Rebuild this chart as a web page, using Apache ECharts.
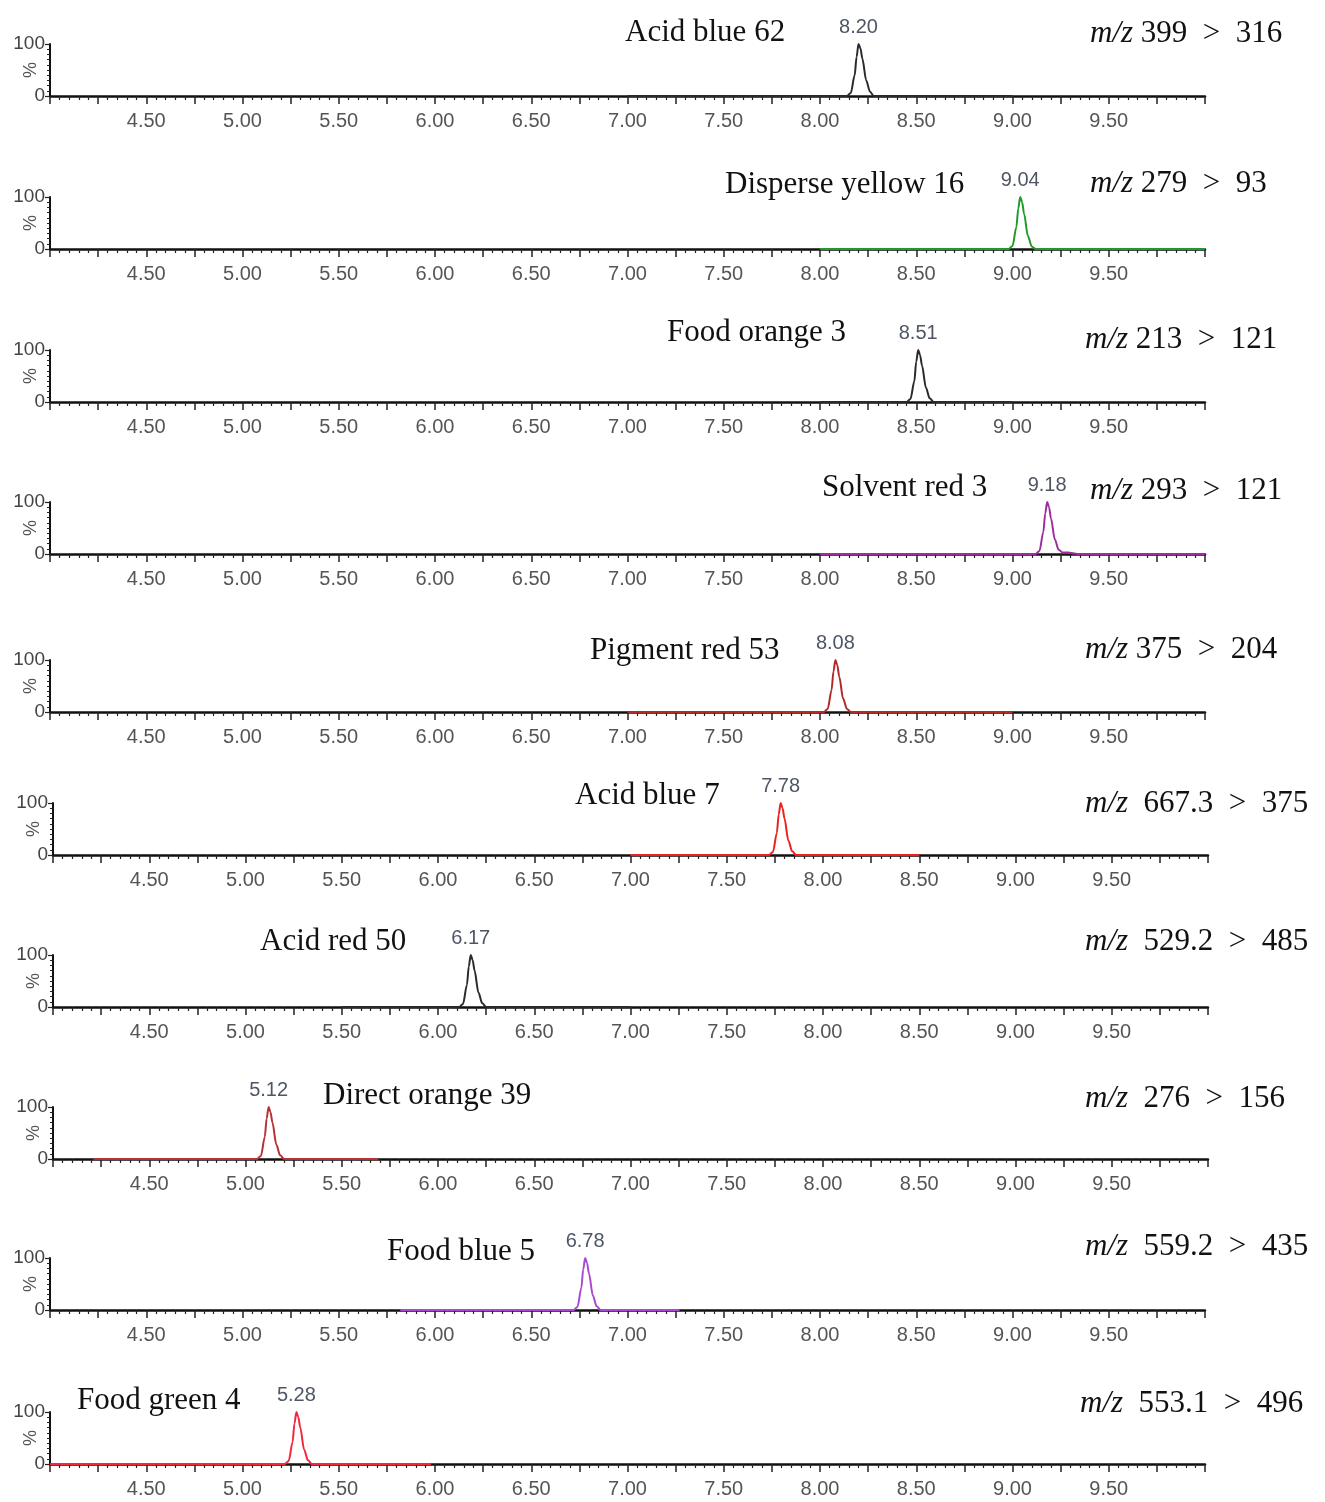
<!DOCTYPE html>
<html>
<head>
<meta charset="utf-8">
<script src="https://cdn.jsdelivr.net/npm/echarts@6/dist/echarts.min.js"></script>
<style>
  html, body { margin: 0; padding: 0; background: #fff; }
  #chart { width: 1325px; height: 1502px; }
</style>
</head>
<body>
<div id="chart"></div>
<script>
// compound names, transitions and retention times
var names = ['Acid blue 62', 'Disperse yellow 16', 'Food orange 3', 'Solvent red 3', 'Pigment red 53',
  'Acid blue 7', 'Acid red 50', 'Direct orange 39', 'Food blue 5', 'Food green 4'];
var transitions = ['399 > 316', '279 > 93', '213 > 121', '293 > 121', '375 > 204',
  ' 667.3 > 375', ' 529.2 > 485', ' 276 > 156', ' 559.2 > 435', ' 553.1 > 496'];
var peakTimes = ['8.20', '9.04', '8.51', '9.18', '8.08', '7.78', '6.17', '5.12', '6.78', '5.28'];
var colors = ['#2a2a2a', '#1f9a2a', '#2a2a2a', '#9c2f9c', '#b02a2a', '#ec2020', '#2a2a2a', '#b53232', '#a84ad0', '#f2283c'];

// traces: [time (min), intensity (%)]
var trace1 = [[7.00,0],[8.14,0],[8.16,6],[8.18,40],[8.19,75],[8.20,100],[8.21,92],[8.22,72],[8.24,30],[8.26,8],[8.28,0],[9.00,0]];
var trace2 = [[8.00,0],[8.98,0],[9.00,6],[9.02,42],[9.03,78],[9.04,100],[9.05,90],[9.06,68],[9.08,25],[9.10,5],[9.12,0],[10.00,0]];
var trace3 = [[8.00,0],[8.45,0],[8.47,6],[8.49,40],[8.50,78],[8.51,100],[8.52,90],[8.53,70],[8.55,28],[8.57,7],[8.59,0],[9.00,0]];
var trace4 = [[8.00,0],[9.12,0],[9.14,6],[9.16,42],[9.17,78],[9.18,100],[9.19,90],[9.20,68],[9.22,28],[9.24,8],[9.26,3],[9.29,3],[9.32,1],[9.34,0],[10.00,0]];
var trace5 = [[7.00,0],[8.02,0],[8.04,6],[8.06,42],[8.07,78],[8.08,100],[8.09,90],[8.10,68],[8.12,26],[8.14,6],[8.16,0],[9.00,0]];
var trace6 = [[7.00,0],[7.72,0],[7.74,6],[7.76,42],[7.77,78],[7.78,100],[7.79,90],[7.80,70],[7.82,28],[7.84,7],[7.86,0],[8.50,0]];
var trace7 = [[5.50,0],[6.11,0],[6.13,6],[6.15,42],[6.16,78],[6.17,100],[6.18,90],[6.19,70],[6.21,28],[6.23,7],[6.25,0],[7.00,0]];
var trace8 = [[4.21,0],[5.06,0],[5.08,6],[5.10,42],[5.11,78],[5.12,100],[5.13,90],[5.14,70],[5.16,28],[5.18,7],[5.20,0],[5.69,0]];
var trace9 = [[5.82,0],[6.72,0],[6.74,6],[6.76,42],[6.77,78],[6.78,100],[6.79,90],[6.80,70],[6.82,28],[6.84,7],[6.86,0],[7.27,0]];
var trace10 = [[4.00,0],[5.22,0],[5.24,6],[5.26,42],[5.27,78],[5.28,100],[5.29,90],[5.30,70],[5.32,28],[5.34,7],[5.36,0],[5.98,0]];
var traces = [trace1, trace2, trace3, trace4, trace5, trace6, trace7, trace8, trace9, trace10];

// layout of the panels (pixels)
var baselines = [96, 249, 402, 554, 712, 855, 1007, 1159, 1310, 1464];
var lefts = [50, 50, 50, 50, 50, 53, 53, 53, 50, 50];
var nameLeft = [625, 725, 667, 822, 590, 575, 260, 323, 387, 77];
var nameY = [31, 183, 331, 486, 649, 794, 940, 1094, 1250, 1399];
var mzLeft = [1090, 1090, 1085, 1090, 1085, 1085, 1085, 1085, 1085, 1080];
var mzY = [32, 182, 338, 489, 648, 802, 940, 1097, 1245, 1402];
var H = 52;

var grids = [], xAxes = [], yAxes = [], series = [], graphics = [];
var serif = '"Liberation Serif", "Times New Roman", serif';
var sans = 'Liberation Sans, Arial, sans-serif';

traces.forEach(function (tr, i) {
  grids.push({ left: lefts[i], width: 1155, top: baselines[i] - H, height: H, outerBoundsMode: 'none', containLabel: false });
  xAxes.push({
    type: 'value', gridIndex: i, min: 4, max: 10, interval: 0.25, offset: 1.5,
    axisLine: { lineStyle: { color: '#111', width: 2.5 } },
    axisTick: { length: 8, lineStyle: { color: '#222', width: 1.5 } },
    minorTick: { show: true, splitNumber: 5, length: 4, lineStyle: { color: '#222', width: 1.2 } },
    splitLine: { show: false },
    axisLabel: {
      margin: 14, fontSize: 20, color: '#555', fontFamily: sans,
      showMinLabel: false, showMaxLabel: false,
      formatter: function (v) {
        if (v <= 4 || v >= 10) return '';
        return (Math.abs(v * 2 - Math.round(v * 2)) < 1e-6) ? v.toFixed(2) : '';
      }
    }
  });
  yAxes.push({
    type: 'value', gridIndex: i, min: 0, max: 100, interval: 100,
    name: '%', nameLocation: 'middle', nameRotate: 90, nameGap: 10, nameMoveOverlap: false,
    nameTextStyle: { fontSize: 18, color: '#555', fontFamily: sans },
    axisLine: { show: true, lineStyle: { color: '#111', width: 2 } },
    axisTick: { show: true, length: 5, lineStyle: { color: '#222', width: 1.2 } },
    minorTick: { show: true, splitNumber: 10, length: 3, lineStyle: { color: '#222' } },
    splitLine: { show: false },
    axisLabel: { margin: 5, fontSize: 19, color: '#444', fontFamily: sans }
  });
  var apex = tr.filter(function (p) { return p[1] === 100; })[0];
  series.push({
    type: 'line', xAxisIndex: i, yAxisIndex: i, data: tr,
    symbol: 'none', smooth: 0.3, smoothMonotone: 'x', z: 5,
    lineStyle: { color: colors[i], width: 2 },
    markPoint: {
      symbol: 'circle', symbolSize: 0, silent: true,
      data: [{ coord: apex, value: peakTimes[i] }],
      label: {
        show: true, position: 'top', distance: 7, formatter: '{c}',
        fontSize: 20, color: '#4e5666', fontFamily: 'Liberation Sans Narrow, Arial Narrow, sans-serif'
      }
    },
    animation: false
  });
  graphics.push({
    type: 'text', left: nameLeft[i], top: nameY[i] - 14,
    style: { text: names[i], font: '31px ' + serif, fill: '#111' }
  });
  graphics.push({
    type: 'text', left: mzLeft[i], top: mzY[i] - 14,
    style: {
      text: '{i|m/z}{n| ' + transitions[i].replace(' > ', '  >  ') + '}',
      rich: {
        i: { font: 'italic 31px ' + serif, fill: '#111' },
        n: { font: '31px ' + serif, fill: '#111' }
      }
    }
  });
});

var chart = echarts.init(document.getElementById('chart'));
chart.setOption({
  animation: false,
  backgroundColor: '#fff',
  grid: grids,
  xAxis: xAxes,
  yAxis: yAxes,
  series: series,
  graphic: graphics
});
</script>
</body>
</html>
